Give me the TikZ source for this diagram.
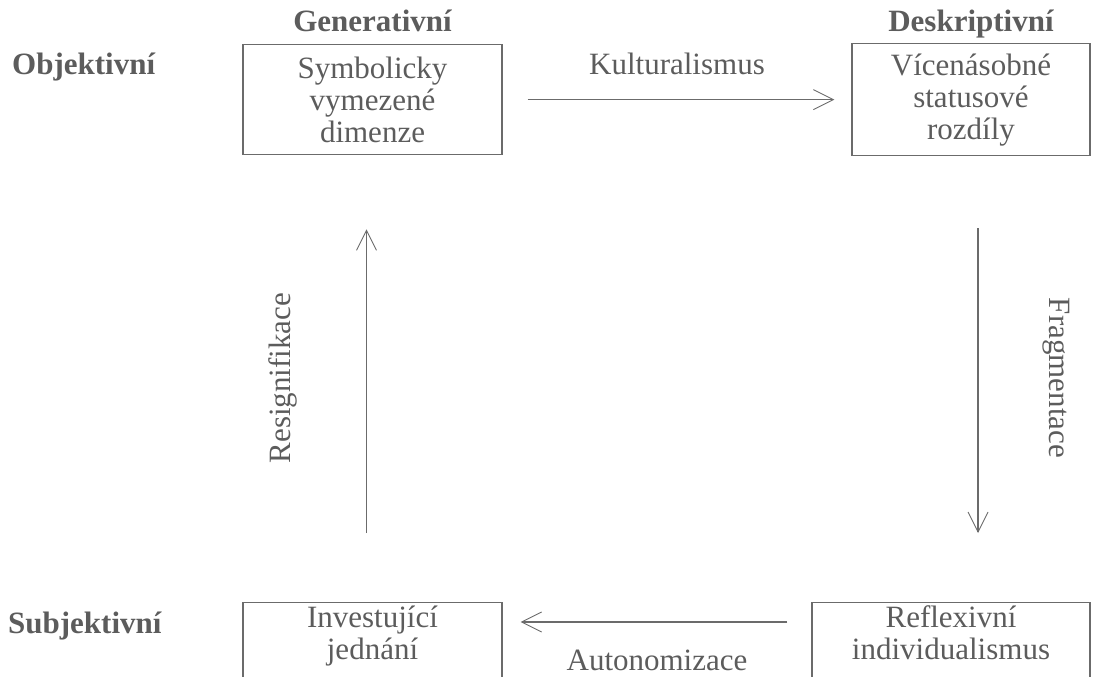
\documentclass[tikz,border=0pt]{standalone}
\usepackage{fontspec}
\setmainfont{Liberation Serif}
\usetikzlibrary{arrows.meta}
\definecolor{inkgray}{gray}{0.36}
\definecolor{linegray}{gray}{0.42}
\tikzset{
  catbox/.style={draw=linegray, line width=1.3pt, text=inkgray, align=center, inner sep=3pt, font=\fontsize{31}{32}\selectfont},
  axislabel/.style={text=inkgray, inner sep=0pt, font=\fontsize{31}{32}\selectfont\bfseries},
  flowlabel/.style={text=inkgray, inner sep=0pt, font=\fontsize{31}{32}\selectfont},
  flow/.style={draw=linegray, line width=1.3pt, -{Straight Barb[length=20pt,width=20pt,line width=0.9pt]}}
}

\begin{document}
\begin{tikzpicture}[x=1pt,y=-1pt]
          \useasboundingbox (0,0) rectangle (1093,677);
          \clip (0,0) rectangle (1093,677);

          \node [axislabel, anchor=base] (gen) at (372.5,32) {Generativní}; % column heads
          \node [axislabel, anchor=base] (desc) at (971,32) {Deskriptivní};
          \node [axislabel, anchor=base west] (obj) at (12,75) {Objektivní}; % row heads
          \node [axislabel, anchor=base west] (subj) at (8,633) {Subjektivní};

          \node [catbox, anchor=north, minimum width=259pt, minimum height=110pt] (symb) at (372.5,44) {Symbolicky\\vymezené\\dimenze};
          \node [catbox, anchor=north, minimum width=238pt, minimum height=112pt] (vice) at (971,43) {Vícenásobné\\statusové\\rozdíly};
          \node [catbox, anchor=north, minimum width=259pt, text depth=40pt] (inv) at (372.5,602) {Investující\\jednání};
          \node [catbox, anchor=north, minimum width=278pt, text depth=40pt] (refl) at (951,602) {Reflexivní\\individualismus};

          \draw [flow, shorten <=25pt, shorten >=17pt] (symb.east) -- (vice.west)
                node [flowlabel, midway, above=24pt] (kult) {Kulturalismus};
          \draw [flow, shorten <=72pt, shorten >=69pt] ([xshift=7pt]vice.south) -- ([xshift=7pt]vice.south |- refl.north);
          \draw [flow, shorten <=24pt, shorten >=18pt] ([yshift=-20pt]refl.north west) -- ([yshift=-20pt]inv.north east)
                node [flowlabel, midway, below=27pt] (auto) {Autonomizace};
          \draw [flow, shorten <=69pt, shorten >=74pt] ([xshift=-6pt]inv.north) -- ([xshift=-6pt]symb.south);

          \node [flowlabel, rotate=90] (resig) at (283,378) {Resignifikace};
          \node [flowlabel, rotate=-90] (frag) at (1056,378) {Fragmentace};
\end{tikzpicture}
\end{document}
